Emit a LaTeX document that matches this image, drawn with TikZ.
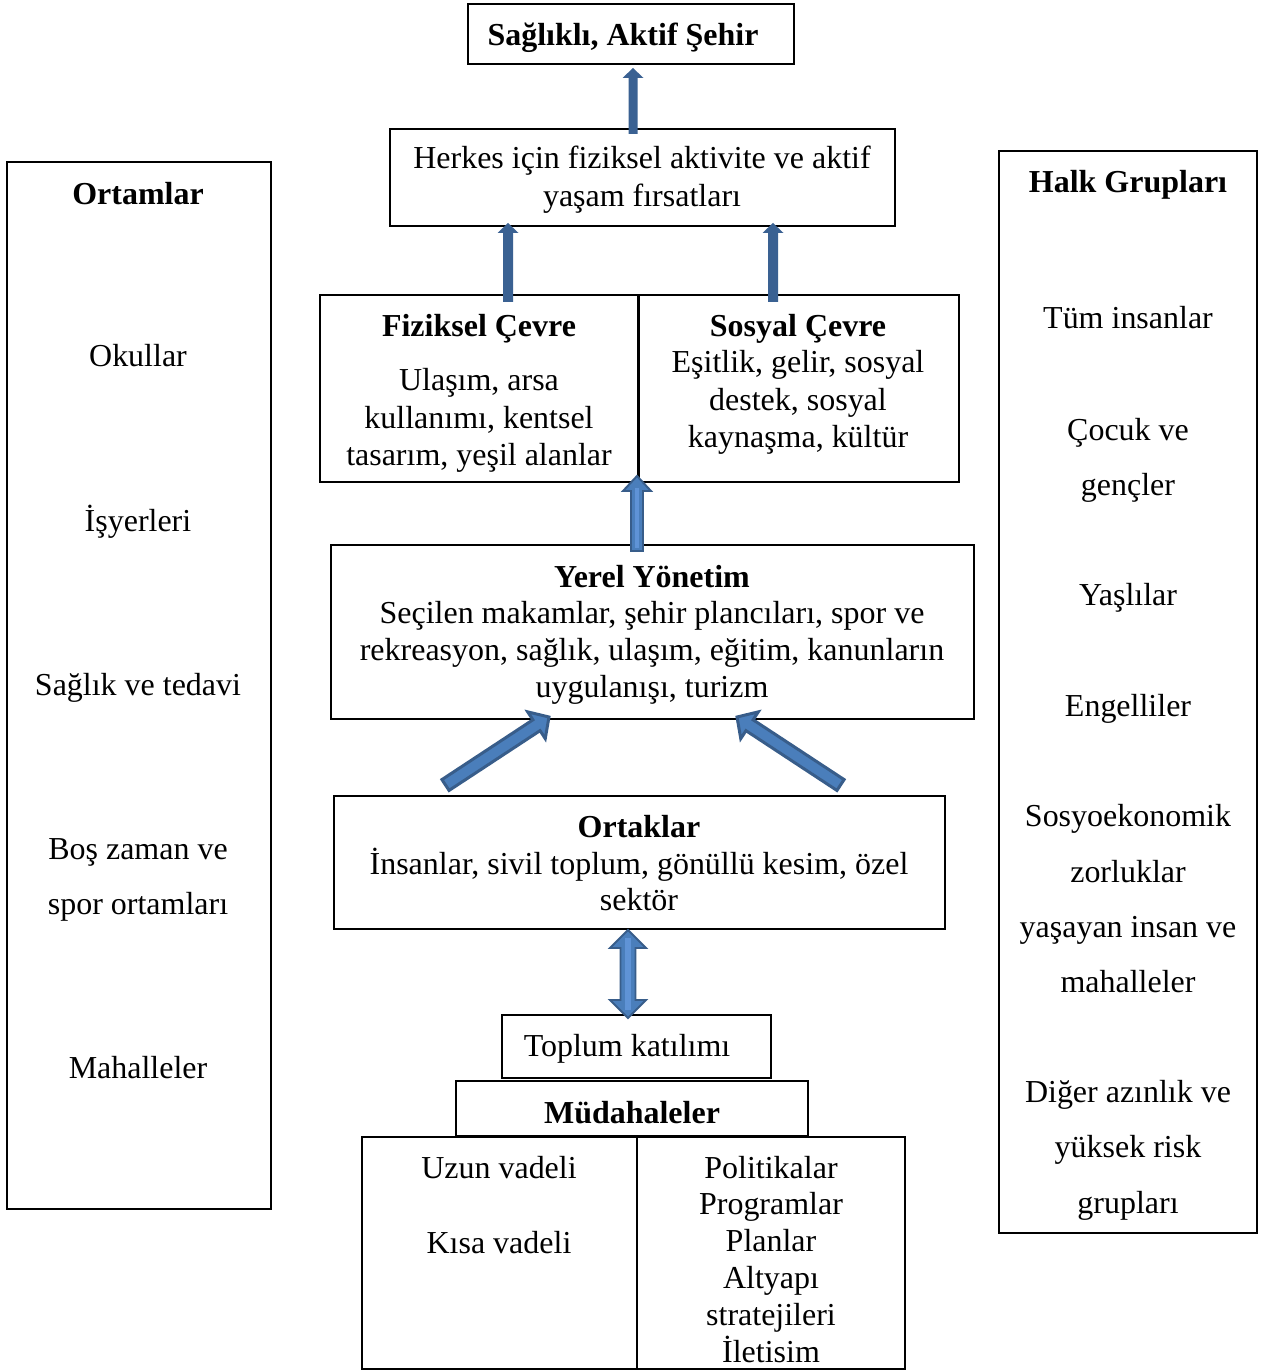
\documentclass[tikz,border=0pt]{standalone}
\usepackage{fontspec}
\setmainfont{Liberation Serif}
\usetikzlibrary{calc}
\definecolor{adark}{HTML}{385D8A}
\definecolor{amid}{HTML}{4A7EBB}
\definecolor{alight}{HTML}{5F93D6}
\definecolor{asolid}{HTML}{3A6192}
\newcommand{\blkarrow}[6]{%
  \coordinate (bh) at ($(#3)!#6!(#2)$);
  \path[#1] ($(#2)!#4!90:(#3)$) -- ($(bh)!#4!90:(#3)$) -- ($(bh)!#5!90:(#3)$) -- (#3)
    -- ($(bh)!#5!-90:(#3)$) -- ($(bh)!#4!-90:(#3)$) -- ($(#2)!#4!-90:(#3)$) -- cycle;
}
\begin{document}
\begin{tikzpicture}[x=0.02cm,y=-0.02cm,
  box/.style={draw=black,line width=0.9pt,inner sep=0pt,outer sep=0pt,fill=white},
  txt/.style={anchor=base,inner sep=0pt,yshift=-3*0.02cm,font=\fontsize{18.2pt}{22pt}\selectfont},
  btxt/.style={txt,font=\fontsize{18.2pt}{22pt}\selectfont\bfseries}]
\useasboundingbox[fill=white] (0,0) rectangle (1271,1371);

% boxes
\node[box,minimum width=326*0.02cm,minimum height=60*0.02cm] (top) at (631,34) {};
\node[box,minimum width=505*0.02cm,minimum height=97*0.02cm] (herkes) at (642.5,177.5) {};
\node[box,minimum width=318*0.02cm,minimum height=187*0.02cm] (fiz) at (479,388.5) {};
\node[box,minimum width=320*0.02cm,minimum height=187*0.02cm] (sos) at (799,388.5) {};
\node[box,minimum width=643*0.02cm,minimum height=174*0.02cm] (yerel) at (652.5,632) {};
\node[box,minimum width=611*0.02cm,minimum height=133*0.02cm] (ortak) at (639.5,862.5) {};
\node[box,minimum width=269*0.02cm,minimum height=63*0.02cm] (toplum) at (636.5,1046.5) {};
\node[box,minimum width=352*0.02cm,minimum height=55*0.02cm] (mud) at (632,1108.5) {};
\node[box,minimum width=275*0.02cm,minimum height=232*0.02cm] (uzun) at (499.5,1253) {};
\node[box,minimum width=268*0.02cm,minimum height=232*0.02cm] (pol) at (771,1253) {};
\node[box,minimum width=264*0.02cm,minimum height=1047*0.02cm] (ortam) at (139,685.5) {};
\node[box,minimum width=258*0.02cm,minimum height=1082*0.02cm] (halk) at (1128,692) {};

% texts
\node[btxt] (t-top) at (623,43) {Sağlıklı, Aktif Şehir};
\node[txt] (t-her1) at (642,166) {Herkes için fiziksel aktivite ve aktif};
\node[txt] (t-her2) at (642,204) {yaşam fırsatları};
\node[btxt] (t-fiz0) at (479,334) {Fiziksel Çevre};
\node[txt] (t-fiz1) at (479,388) {Ulaşım, arsa};
\node[txt] (t-fiz2) at (479,425) {kullanımı, kentsel};
\node[txt] (t-fiz3) at (479,462) {tasarım, yeşil alanlar};
\node[btxt] (t-sos0) at (798,334) {Sosyal Çevre};
\node[txt] (t-sos1) at (798,370) {Eşitlik, gelir, sosyal};
\node[txt] (t-sos2) at (798,407) {destek, sosyal};
\node[txt] (t-sos3) at (798,444) {kaynaşma, kültür};
\node[btxt] (t-yer0) at (652,584) {Yerel Yönetim};
\node[txt] (t-yer1) at (652,620) {Seçilen makamlar, şehir plancıları, spor ve};
\node[txt] (t-yer2) at (652,657) {rekreasyon, sağlık, ulaşım, eğitim, kanunların};
\node[txt] (t-yer3) at (652,694) {uygulanışı, turizm};
\node[btxt] (t-ort0) at (639,834) {Ortaklar};
\node[txt] (t-ort1) at (639,871) {İnsanlar, sivil toplum, gönüllü kesim, özel};
\node[txt] (t-ort2) at (639,907) {sektör};
\node[txt] (t-top1) at (627,1053) {Toplum katılımı};
\node[btxt] (t-mud) at (632,1120) {Müdahaleler};
\node[txt] (t-uz1) at (499,1175) {Uzun vadeli};
\node[txt] (t-uz2) at (499,1250) {Kısa vadeli};
\node[txt] (t-pol1) at (771,1175) {Politikalar};
\node[txt] (t-pol2) at (771,1211) {Programlar};
\node[txt] (t-pol3) at (771,1248) {Planlar};
\node[txt] (t-pol4) at (771,1285) {Altyapı};
\node[txt] (t-pol5) at (771,1322) {stratejileri};
\node[txt] (t-pol6) at (771,1359) {İletisim};
% Ortamlar
\node[btxt] (t-om0) at (138,202) {Ortamlar};
\node[txt] (t-om1) at (138,364) {Okullar};
\node[txt] (t-om2) at (138,528) {İşyerleri};
\node[txt] (t-om3) at (138,692) {Sağlık ve tedavi};
\node[txt] (t-om4) at (138,856) {Boş zaman ve};
\node[txt] (t-om5) at (138,911) {spor ortamları};
\node[txt] (t-om6) at (138,1075) {Mahalleler};
% Halk Gruplari
\node[btxt] (t-hg0) at (1128,190) {Halk Grupları};
\node[txt] (t-hg1) at (1128,326) {Tüm insanlar};
\node[txt] (t-hg2) at (1128,437) {Çocuk ve};
\node[txt] (t-hg3) at (1128,492) {gençler};
\node[txt] (t-hg4) at (1128,602) {Yaşlılar};
\node[txt] (t-hg5) at (1128,713) {Engelliler};
\node[txt] (t-hg6) at (1128,823) {Sosyoekonomik};
\node[txt] (t-hg7) at (1128,879) {zorluklar};
\node[txt] (t-hg8) at (1128,934) {yaşayan insan ve};
\node[txt] (t-hg9) at (1128,989) {mahalleler};
\node[txt] (t-hg10) at (1128,1099) {Diğer azınlık ve};
\node[txt] (t-hg11) at (1128,1154) {yüksek risk};
\node[txt] (t-hg12) at (1128,1210) {grupları};

% arrows: coordinates tied to nodes
\coordinate (a1s) at ($(herkes.north)+(-9.5,5)$);
\coordinate (a1e) at ($(top.south)+(2,4)$);
\coordinate (a2s) at ($(fiz.north)+(29,7)$);
\coordinate (a2e) at ($(herkes.south)+(-134.5,-3)$);
\coordinate (a3s) at ($(sos.north)+(-26,7)$);
\coordinate (a3e) at ($(herkes.south)+(130.5,-3)$);
\coordinate (a4s) at ($(yerel.north)+(-15.5,6)$);
\coordinate (a4e) at ($(fiz.south east)+(-1,-6)$);
\coordinate (a5s) at ($(ortak.north)+(-194,-11)$);
\coordinate (a5e) at ($(yerel.south)+(-103.5,-2)$);
\coordinate (a6s) at ($(ortak.north)+(201,-11)$);
\coordinate (a6e) at ($(yerel.south)+(84.5,-2)$);
\coordinate (a7a) at ($(ortak.south)+(-11.5,1)$);
\coordinate (a7b) at ($(toplum.north)+(-8.5,3)$);

\blkarrow{fill=asolid}{a1s}{a1e}{0.09cm}{0.21cm}{0.2cm}
\blkarrow{fill=asolid}{a2s}{a2e}{0.1cm}{0.21cm}{0.2cm}
\blkarrow{fill=asolid}{a3s}{a3e}{0.1cm}{0.21cm}{0.2cm}
\blkarrow{fill=amid,draw=adark,line width=1.1pt,line join=miter}{a4s}{a4e}{0.12cm}{0.28cm}{0.3cm}
\draw[alight,line width=2.4pt] ($(a4s)+(0,-3)$) -- ($(a4e)+(0,12)$);
\blkarrow{fill=amid,draw=adark,line width=1.7pt,line join=miter}{a5s}{a5e}{0.13cm}{0.32cm}{0.3cm}
\blkarrow{fill=amid,draw=adark,line width=1.7pt,line join=miter}{a6s}{a6e}{0.13cm}{0.32cm}{0.3cm}
% double arrow
\coordinate (dh1) at ($(a7a)!0.36cm!(a7b)$);
\coordinate (dh2) at ($(a7b)!0.36cm!(a7a)$);
\path[fill=amid,draw=adark,line width=1.1pt,line join=miter]
  (a7a) -- ($(dh1)!0.36cm!90:(a7a)$) -- ($(dh1)!0.15cm!90:(a7a)$) -- ($(dh2)!0.15cm!-90:(a7b)$)
  -- ($(dh2)!0.36cm!-90:(a7b)$) -- (a7b) -- ($(dh2)!0.36cm!90:(a7b)$) -- ($(dh2)!0.15cm!90:(a7b)$)
  -- ($(dh1)!0.15cm!-90:(a7a)$) -- ($(dh1)!0.36cm!-90:(a7a)$) -- cycle;
\draw[alight,line width=3pt] ($(a7a)+(0,8)$) -- ($(a7b)+(0,-8)$);
\end{tikzpicture}
\end{document}
